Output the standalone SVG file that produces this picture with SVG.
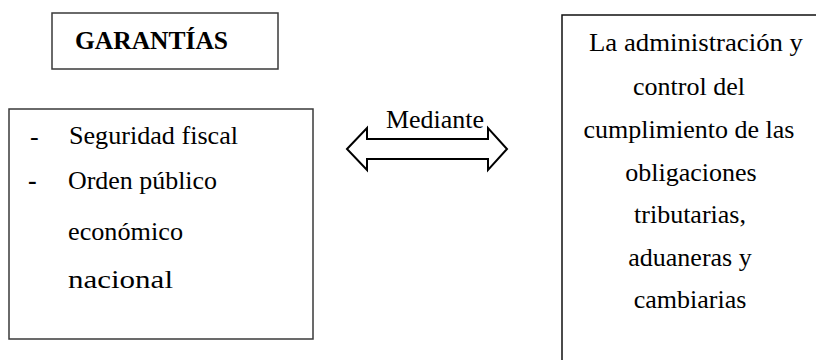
<svg xmlns="http://www.w3.org/2000/svg" width="816" height="360" viewBox="0 0 816 360">
<style>
.box{fill:#fff;stroke:#3a3a3a;stroke-width:1.5}
.t{font-family:"Liberation Serif","Times New Roman",serif;font-size:26px;fill:#000}
.c{text-anchor:middle}
.b{font-weight:bold}
.arrow{fill:#fff;stroke:#000;stroke-width:2;stroke-linejoin:miter}
</style>
<rect width="816" height="360" fill="#fff"/>
<g id="garantias">
<rect class="box" x="52" y="13" width="226" height="56"/>
<text class="t b" x="75" y="49" textLength="153" lengthAdjust="spacingAndGlyphs">GARANTÍAS</text>
</g>
<g id="lista">
<rect class="box" x="9" y="109" width="304" height="230"/>
<text class="t" x="30" y="145">-</text>
<text class="t" x="69" y="144" textLength="169" lengthAdjust="spacingAndGlyphs">Seguridad fiscal</text>
<text class="t b" x="28" y="189">-</text>
<text class="t" x="68" y="189" textLength="149" lengthAdjust="spacingAndGlyphs">Orden público</text>
<text class="t" x="68" y="240" textLength="115" lengthAdjust="spacingAndGlyphs">económico</text>
<text class="t" x="68" y="288" font-size="31" textLength="105" lengthAdjust="spacingAndGlyphs">nacional</text>
</g>
<g id="administracion">
<rect class="box" x="562" y="15" width="260" height="360" style="stroke:#111"/>
<text class="t c" x="696" y="51" textLength="214" lengthAdjust="spacingAndGlyphs">La administración y</text>
<text class="t c" x="689" y="95">control del</text>
<text class="t c" x="689" y="138">cumplimiento de las</text>
<text class="t c" x="691" y="181">obligaciones</text>
<text class="t c" x="690" y="223">tributarias,</text>
<text class="t c" x="690" y="266">aduaneras y</text>
<text class="t c" x="690" y="308">cambiarias</text>
</g>
<g id="connectors">
<polygon class="arrow" points="347,149 367,128 367,139 488,139 488,128 507,149 488,170 488,159 367,159 367,170"/>
<text class="t" x="386" y="128" textLength="98" lengthAdjust="spacingAndGlyphs">Mediante</text>
</g>
</svg>
